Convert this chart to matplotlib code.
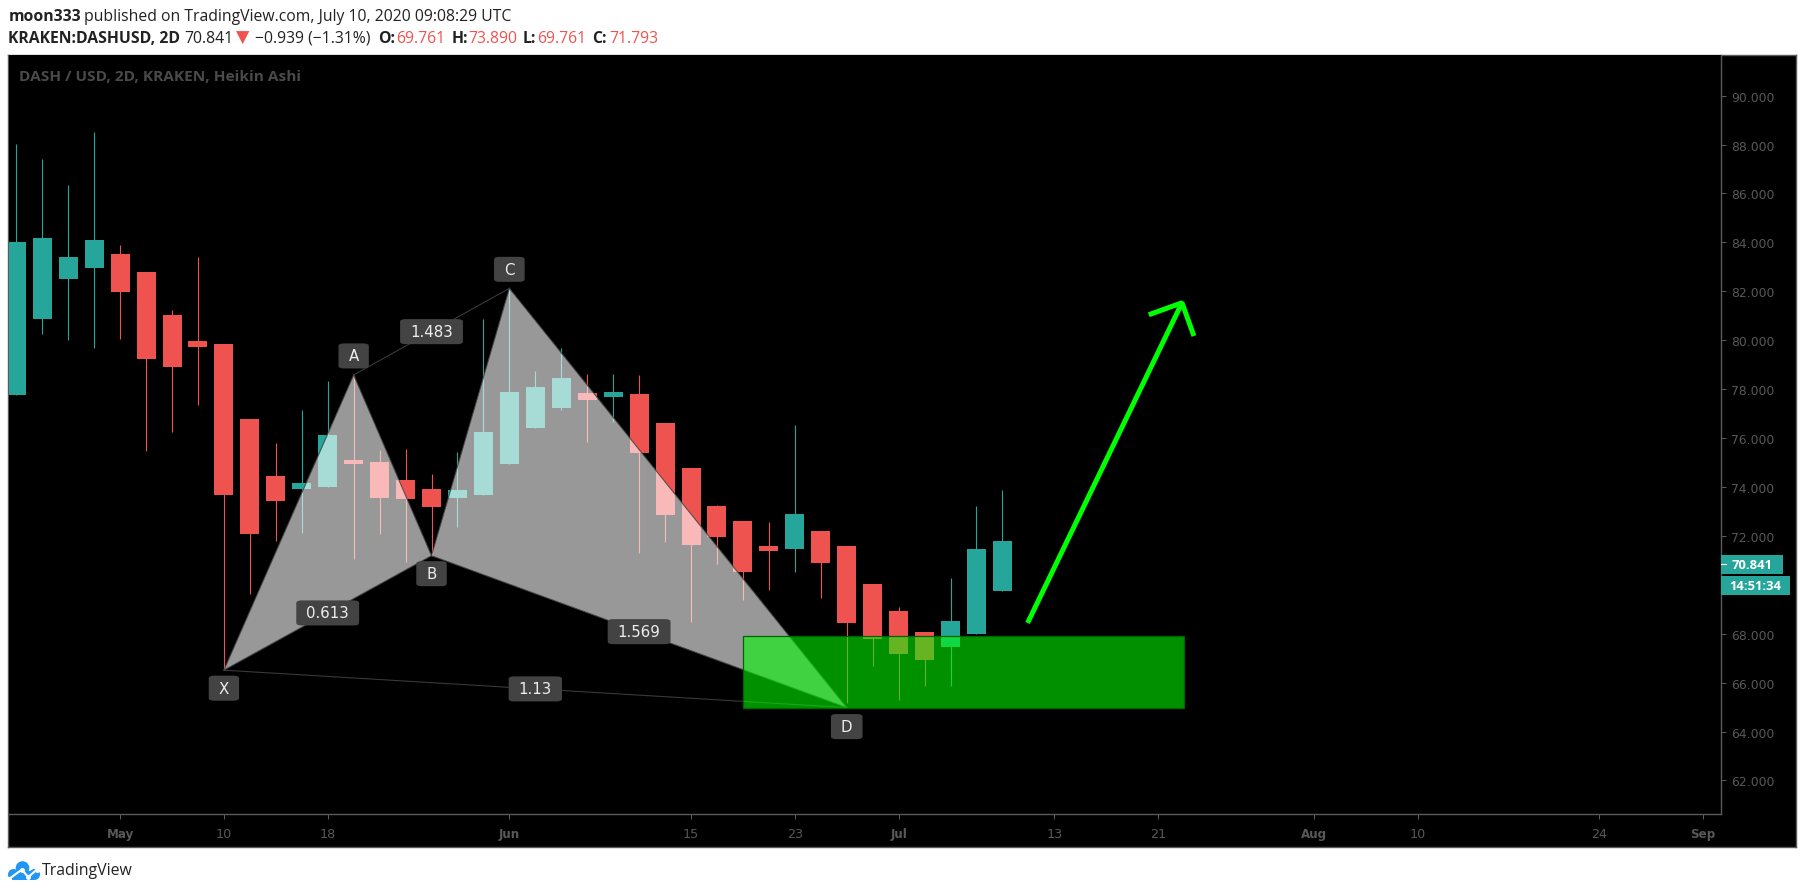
"""DASH/USD Heikin Ashi chart with a harmonic XABCD pattern, TradingView look."""
import matplotlib
matplotlib.use("Agg")
import matplotlib.pyplot as plt
from matplotlib.patches import Circle, Polygon, Rectangle

W, H = 1805, 895
TEAL = "#26a69a"; RED = "#ef5350"; AXIS = "#5a5a5a"; TICKTXT = "#585858"
BOX = "#434343"; LIME = "#00ff00"; INK = "#222222"

opens = [77.77, 80.87, 82.51, 82.95, 83.53, 82.79, 81.04, 79.98, 79.85, 76.78,
         74.45, 73.92, 74.00, 75.12, 75.02, 74.28, 73.92, 73.55, 73.68, 74.94,
         76.42, 77.23, 77.85, 77.68, 77.80, 76.62, 74.78, 73.23, 72.61, 71.59,
         71.47, 72.20, 71.59, 70.04, 68.93, 68.07, 67.46, 68.00, 69.761]
closes = [84.01, 84.18, 83.40, 84.11, 81.98, 79.24, 78.91, 79.73, 73.67, 72.08,
          73.44, 74.17, 76.13, 74.94, 73.55, 73.51, 73.18, 73.88, 76.25, 77.89,
          78.09, 78.46, 77.56, 77.89, 75.39, 72.86, 71.63, 71.96, 70.53, 71.38,
          72.90, 70.90, 68.44, 67.79, 67.18, 66.93, 68.52, 71.47, 71.793]
highs = [88.02, 87.41, 86.34, 88.52, 83.90, 82.79, 81.24, 83.40, 79.85, 76.78,
         75.80, 77.14, 78.33, 78.58, 75.52, 75.55, 74.53, 75.43, 80.87, 82.12,
         78.75, 79.69, 78.62, 78.62, 78.58, 76.62, 74.78, 73.27, 72.61, 72.57,
         76.54, 72.20, 71.59, 70.04, 69.10, 68.07, 70.28, 73.23, 73.89]
lows = [77.77, 80.27, 79.99, 79.68, 80.05, 75.49, 76.25, 77.35, 66.51, 69.63,
        71.79, 72.12, 74.00, 71.06, 72.08, 70.93, 71.19, 72.38, 73.68, 74.94,
        76.42, 77.15, 75.82, 76.67, 71.28, 71.73, 68.46, 70.86, 69.36, 69.79,
        70.53, 69.47, 65.17, 66.69, 65.30, 65.87, 65.87, 68.00, 69.761]

# 70.000 sits behind the price tags in the reference, so it is left out
price_ticks = [62, 64, 66, 68, 72, 74, 76, 78, 80, 82, 84, 86, 88, 90]
date_pos = [4, 8, 12, 19, 26, 30, 34, 40, 44, 50, 54, 61, 65]
date_labels = ["May", "10", "18", "Jun", "15", "23", "Jul", "13", "21", "Aug", "10", "24", "Sep"]
months = {"May", "Jun", "Jul", "Aug", "Sep"}

# harmonic pattern: bar index and price of each pivot
pivot_names = ["X", "A", "B", "C", "D"]
pivot_x = [8, 13, 16, 19, 32]
pivot_y = [66.51, 78.58, 71.19, 82.12, 64.98]
pivot_dy = [18, -19, 18, -19, 19]
ratio_legs = [("X", "B"), ("A", "C"), ("B", "D"), ("X", "D")]
ratio_labels = ["0.613", "1.483", "1.569", "1.13"]

zone_x = [28, 45]
zone_y = [64.95, 67.90]
arrow_x = [38.97, 44.92]
arrow_y = [68.44, 81.53]
head_x = [43.64, 44.92, 45.38]
head_y = [81.04, 81.53, 80.17]

last_price = 70.841

fig = plt.figure(figsize=(W / 100, H / 100), dpi=100, facecolor="white")

def box(l, t, r, b):
    return [l / W, 1 - b / H, (r - l) / W, (b - t) / H]

# outer black panel, holds the price scale and date strip
panel = fig.add_axes(box(8, 55.5, 1796, 848), facecolor="black")
panel.set_xticks([]); panel.set_yticks([])
for s in panel.spines.values():
    s.set_color(AXIS); s.set_linewidth(1.0)

ax = fig.add_axes(box(8.7, 56, 1721, 815), facecolor="black")
ax.set_xlim(-0.293, 65.69)
ax.set_ylim(60.63, 91.66)
for k in ("top", "left"):
    ax.spines[k].set_visible(False)
for k in ("right", "bottom"):
    ax.spines[k].set_color(AXIS); ax.spines[k].set_linewidth(1.0)

ax.yaxis.tick_right()
ax.set_yticks(price_ticks)
ax.set_yticklabels([f"{p:.3f}" for p in price_ticks])
ax.tick_params(axis="y", length=3.6, width=0.72, color=AXIS, labelcolor=TICKTXT,
               labelsize=8.9, pad=3.6)
ax.set_xticks(date_pos)
ax.set_xticklabels(date_labels)
ax.tick_params(axis="x", length=3.6, width=0.72, color=AXIS, labelcolor=TICKTXT,
               labelsize=9.2, pad=6)
for t in ax.get_xticklabels():
    if t.get_text() in months:
        t.set_fontweight("bold"); t.set_fontsize(8.6)

# candles
for i, (o, c, h, l) in enumerate(zip(opens, closes, highs, lows)):
    col = TEAL if c >= o else RED
    ax.vlines(i, l, h, color=col, lw=0.8, zorder=2)
    ax.bar(i, abs(c - o), bottom=min(o, c), width=0.732, color=col, lw=0, zorder=2)

# pattern wings and thin legs
pts = dict(zip(pivot_names, zip(pivot_x, pivot_y)))
for tri in ("XAB", "BCD"):
    ax.add_patch(Polygon([pts[n] for n in tri], closed=True, fc="white", ec="none",
                         alpha=0.6, zorder=3))
for a, b in ["XA", "AB", "BC", "CD", "XB", "BD", "AC", "XD"]:
    ax.plot([pts[a][0], pts[b][0]], [pts[a][1], pts[b][1]], color="#434343", lw=0.8,
            alpha=0.85, zorder=3.5)

ax.add_patch(Rectangle((zone_x[0], zone_y[0]), zone_x[1] - zone_x[0], zone_y[1] - zone_y[0],
                       fc=(0, 1, 0, 0.57), ec="#006400", lw=0.9, zorder=4))

ax.plot(arrow_x, arrow_y, color=LIME, lw=3.6, solid_capstyle="butt", zorder=5)
ax.plot(head_x, head_y, color=LIME, lw=3.6, solid_capstyle="butt", solid_joinstyle="bevel", zorder=5)

tag = dict(boxstyle="round,pad=0.67,rounding_size=0.35", fc=BOX, ec="none", mutation_aspect=0.5)
for n, dy in zip(pivot_names, pivot_dy):
    ax.annotate(n, pts[n], xytext=(0, -dy), textcoords="offset pixels", ha="center",
                va="center", color="#eeeeee", fontsize=10.8, bbox=tag, zorder=6)
for (a, b), s in zip(ratio_legs, ratio_labels):
    mid = ((pts[a][0] + pts[b][0]) / 2, (pts[a][1] + pts[b][1]) / 2)
    ax.annotate(s, mid, ha="center", va="center", color="#eeeeee", fontsize=10.8, bbox=tag, zorder=6)

# price tags on the scale
tr = ax.get_yaxis_transform()
ax.add_patch(Rectangle((1, last_price - 0.39), 0.0362, 0.78, transform=tr, fc=TEAL, ec="none",
                       clip_on=False, zorder=7))
ax.add_patch(Rectangle((1, 69.6), 0.0404, 0.78, transform=tr, fc=TEAL, ec="none",
                       clip_on=False, zorder=7))
ax.plot([1, 1.003], [last_price, last_price], transform=tr, color="white", lw=0.8,
        clip_on=False, zorder=8)
ax.text(1.0181, last_price, f"{last_price:.3f}", transform=tr, ha="center", va="center",
        color="white", fontsize=9.4, fontweight="bold", family="Open Sans", zorder=8)
ax.text(1.0202, 69.98, "14:51:34", transform=tr, ha="center", va="center",
        color="white", fontsize=9.4, fontweight="bold", family="Open Sans", zorder=8)

# overlay in pixel coordinates for header, watermark title and logo
ov = fig.add_axes([0, 0, 1, 1], zorder=10)
ov.set_xlim(0, W); ov.set_ylim(H, 0); ov.axis("off")

def run(x, y, s, col=INK, bold=False, size=11.3):
    ov.text(x, y, s, color=col, fontsize=size, fontweight="bold" if bold else "normal",
            family=["Open Sans", "DejaVu Sans"], ha="left", va="center")

run(8.5, 16.5, "moon333", bold=True)
run(84.4, 16.5, "published on TradingView.com, July 10, 2020 09:08:29 UTC")
run(8.5, 38.5, "KRAKEN:DASHUSD, 2D", bold=True)
run(184.4, 38.5, "70.841")
run(236, 38.5, "▼", col=RED, size=12.5)
run(255, 38.5, "−0.939 (−1.31%)")
for x, s in [(378.6, "O:"), (451.8, "H:"), (523, "L:"), (592.4, "C:")]:
    run(x, 38.5, s, bold=True)
for x, s in [(396.4, "69.761"), (468, "73.890"), (537.5, "69.761"), (609, "71.793")]:
    run(x, 38.5, s, col=RED)
run(19, 76.5, "DASH / USD, 2D, KRAKEN, Heikin Ashi", col="#4a4a4a", bold=True, size=11.1)

# logo
BLUE = "#2196f3"
for cx, cy, r in [(22.5, 869, 6.8), (13.5, 875.5, 5.5), (34.5, 875.5, 5.5)]:
    ov.add_patch(Circle((cx, cy), r, fc=BLUE, ec="none"))
ov.add_patch(Rectangle((13.5, 872), 21, 9, fc=BLUE, ec="none"))
ov.plot([9, 21.7, 28.3, 36.7], [880, 870.7, 878, 870.7], color="white", lw=1.5, marker="o", ms=2.5)
run(42, 871, "TradingView", size=11.4)

fig.savefig("out.png", dpi=100, facecolor="white")
